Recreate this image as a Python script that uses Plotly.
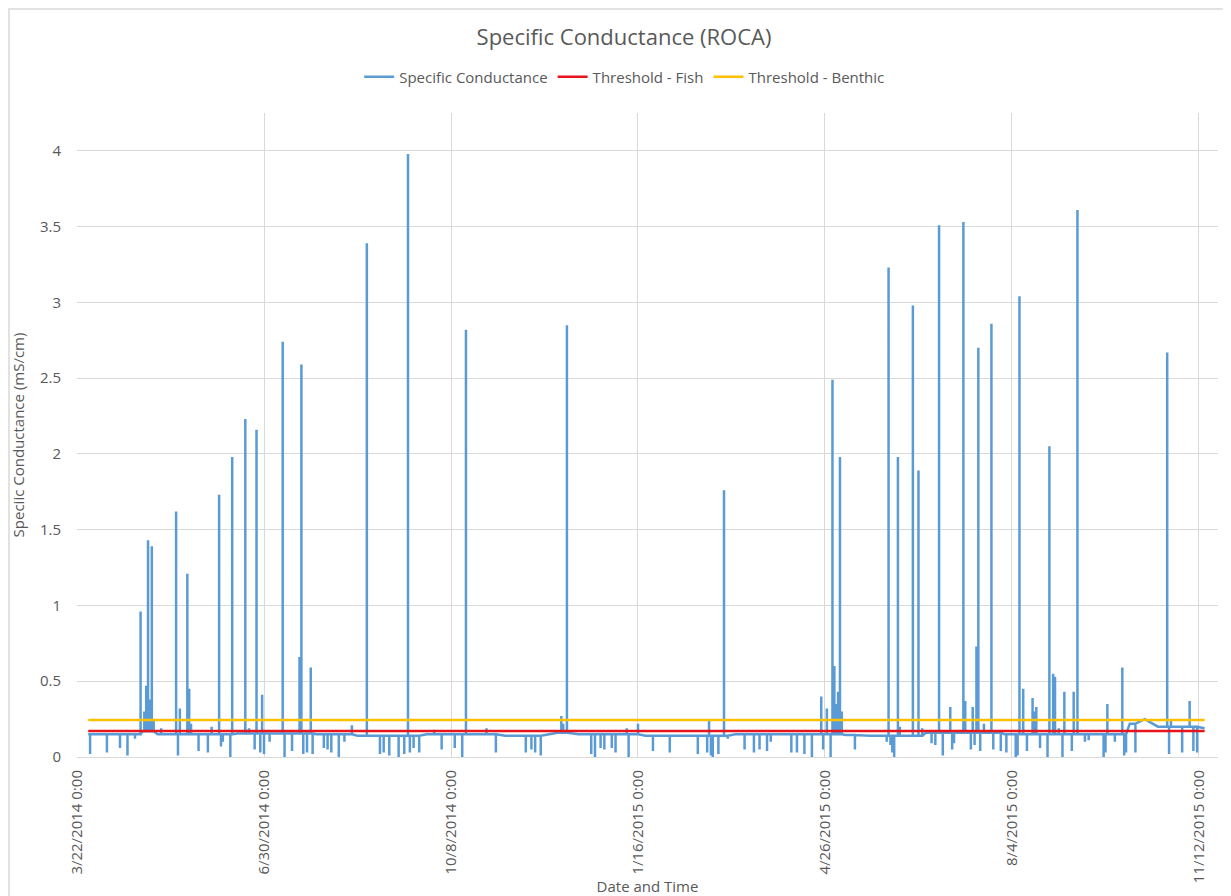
"""Specific Conductance (ROCA) time series with fish / benthic thresholds."""

import bisect

import pandas as pd
import plotly.graph_objects as go

# Baseline level of the logger between events (step level from each date on)
level_dates = [
    "2014-03-28", "2014-04-26", "2014-05-04", "2014-06-16", "2014-07-28",
    "2014-08-19", "2014-09-25", "2014-11-06", "2014-12-04", "2014-12-15",
    "2015-01-20", "2015-03-09", "2015-05-07", "2015-05-20", "2015-06-19",
    "2015-07-31", "2015-09-17", "2015-10-06", "2015-10-14", "2015-10-21",
    "2015-11-15",
]
level_values = [
    0.15, 0.17, 0.15, 0.155, 0.15,
    0.14, 0.15, 0.14, 0.16, 0.15,
    0.14, 0.15, 0.145, 0.14, 0.16,
    0.15, 0.15, 0.22, 0.25, 0.20,
    0.19,
]

# Individual readings that depart from the baseline (spikes and dips), mS/cm
event_dates = [
    "2014-03-29", "2014-04-07", "2014-04-14", "2014-04-18", "2014-04-22",
    "2014-04-25", "2014-04-27", "2014-04-28", "2014-04-29", "2014-04-30",
    "2014-05-01", "2014-05-02", "2014-05-06", "2014-05-14", "2014-05-15",
    "2014-05-16", "2014-05-20", "2014-05-21", "2014-05-22", "2014-05-26",
    "2014-05-31", "2014-06-02", "2014-06-06", "2014-06-07", "2014-06-08",
    "2014-06-12", "2014-06-13", "2014-06-20", "2014-06-22", "2014-06-25",
    "2014-06-26", "2014-06-28", "2014-06-29", "2014-06-30", "2014-07-03",
    "2014-07-10", "2014-07-11", "2014-07-15", "2014-07-19", "2014-07-20",
    "2014-07-21", "2014-07-23", "2014-07-25", "2014-07-26", "2014-08-01",
    "2014-08-03", "2014-08-05", "2014-08-09", "2014-08-12", "2014-08-16",
    "2014-08-24", "2014-08-31", "2014-09-02", "2014-09-05", "2014-09-10",
    "2014-09-13", "2014-09-15", "2014-09-16", "2014-09-18", "2014-09-21",
    "2014-09-29", "2014-10-03", "2014-10-10", "2014-10-14", "2014-10-16",
    "2014-10-27", "2014-11-01", "2014-11-17", "2014-11-20", "2014-11-22",
    "2014-11-25", "2014-12-06", "2014-12-07", "2014-12-09", "2014-12-22",
    "2014-12-24", "2014-12-27", "2014-12-29",
    "2015-01-02", "2015-01-04", "2015-01-10", "2015-01-11", "2015-01-16",
    "2015-01-24", "2015-02-02", "2015-02-17", "2015-02-22", "2015-02-23",
    "2015-02-24", "2015-02-25", "2015-02-28", "2015-03-03", "2015-03-05",
    "2015-03-14", "2015-03-19", "2015-03-22", "2015-03-26", "2015-03-28",
    "2015-04-08", "2015-04-11", "2015-04-15", "2015-04-19", "2015-04-24",
    "2015-04-25", "2015-04-27", "2015-04-29", "2015-04-30", "2015-05-01",
    "2015-05-02", "2015-05-03", "2015-05-04", "2015-05-05", "2015-05-12",
    "2015-05-29", "2015-05-30", "2015-05-31", "2015-06-01", "2015-06-02",
    "2015-06-04", "2015-06-05", "2015-06-12", "2015-06-15", "2015-06-17",
    "2015-06-22", "2015-06-24", "2015-06-26", "2015-06-28", "2015-07-02",
    "2015-07-03", "2015-07-04", "2015-07-09", "2015-07-10", "2015-07-13",
    "2015-07-14", "2015-07-15", "2015-07-16", "2015-07-17", "2015-07-18",
    "2015-07-20", "2015-07-24", "2015-07-25", "2015-07-29", "2015-08-01",
    "2015-08-06", "2015-08-07", "2015-08-08", "2015-08-10", "2015-08-12",
    "2015-08-15", "2015-08-16", "2015-08-17", "2015-08-19", "2015-08-23",
    "2015-08-24", "2015-08-26", "2015-08-27", "2015-08-29", "2015-08-31",
    "2015-09-01", "2015-09-05", "2015-09-06", "2015-09-08", "2015-09-12",
    "2015-09-14", "2015-09-22", "2015-09-23", "2015-09-24", "2015-09-28",
    "2015-10-02", "2015-10-03", "2015-10-04", "2015-10-09", "2015-10-26",
    "2015-10-27", "2015-10-28", "2015-11-03", "2015-11-07", "2015-11-09",
    "2015-11-11",
]
event_values = [
    0.02, 0.03, 0.06, 0.01, 0.12,
    0.96, 0.30, 0.47, 1.43, 0.38,
    1.39, 0.24, 0.19, 1.62, 0.01,
    0.32, 1.21, 0.45, 0.22, 0.04,
    0.03, 0.20, 1.73, 0.07, 0.10,
    0.00, 1.98, 2.23, 0.19, 0.05,
    2.16, 0.03, 0.41, 0.02, 0.10,
    2.74, 0.00, 0.04, 0.66, 2.59,
    0.02, 0.03, 0.59, 0.02, 0.06,
    0.05, 0.03, 0.00, 0.10, 0.21,
    3.39, 0.02, 0.03, 0.01, 0.00,
    0.02, 3.98, 0.03, 0.06, 0.03,
    0.18, 0.05, 0.06, 0.00, 2.82,
    0.19, 0.03, 0.03, 0.05, 0.03,
    0.01, 0.27, 0.22, 2.85, 0.02,
    0.00, 0.06, 0.05,
    0.06, 0.03, 0.19, 0.00, 0.22,
    0.04, 0.03, 0.02, 0.03, 0.24,
    0.01, 0.00, 0.02, 1.76, 0.12,
    0.05, 0.03, 0.05, 0.04, 0.10,
    0.03, 0.03, 0.02, 0.00, 0.40,
    0.05, 0.32, 0.00, 2.49, 0.60,
    0.35, 0.43, 1.98, 0.30, 0.05,
    0.10, 3.23, 0.08, 0.03, 0.00,
    1.98, 0.20, 2.98, 1.89, 0.19,
    0.09, 0.08, 3.51, 0.01, 0.33,
    0.05, 0.09, 3.53, 0.37, 0.05,
    0.33, 0.08, 0.73, 2.70, 0.04,
    0.22, 2.86, 0.05, 0.04, 0.03,
    0.00, 0.01, 3.04, 0.45, 0.04,
    0.39, 0.30, 0.33, 0.06, 0.00,
    2.05, 0.55, 0.53, 0.19, 0.00,
    0.43, 0.04, 0.43, 3.61, 0.10,
    0.11, 0.00, 0.03, 0.35, 0.10,
    0.59, 0.01, 0.03, 0.03, 2.67,
    0.02, 0.25, 0.03, 0.37, 0.04,
    0.03,
]

threshold_dates = ["2014-03-28", "2015-11-15"]
fish_threshold = [0.171, 0.171]
benthic_threshold = [0.245, 0.245]

tick_dates = ["2014-03-22", "2014-06-30", "2014-10-08", "2015-01-16",
              "2015-04-26", "2015-08-04", "2015-11-12"]
tick_labels = ["3/22/2014 0:00", "6/30/2014 0:00", "10/8/2014 0:00",
               "1/16/2015 0:00", "4/26/2015 0:00", "8/4/2015 0:00",
               "11/12/2015 0:00"]

BLUE = "#5B9BD5"
RED = "#E8141B"
GOLD = "#FFC000"
GRID = "#D9D9D9"
TEXT = "#595959"
FONT = "Open Sans"


def build_series():
    """Merge baseline levels and event readings into one ordered series."""
    lvl_ts = list(pd.to_datetime(level_dates))
    points = list(zip(lvl_ts, level_values))
    for d, v in zip(event_dates, event_values):
        t = pd.Timestamp(d)
        i = max(bisect.bisect_right(lvl_ts, t) - 1, 0)
        base = level_values[i]
        # each reading drawn as a vertical excursion from the baseline
        points += [(t, base), (t, v), (t, base)]
    points.sort(key=lambda p: p[0])
    return [p[0] for p in points], [p[1] for p in points]


x, y = build_series()

fig = go.Figure()
fig.add_trace(go.Scatter(
    x=x, y=y, mode="lines", name="Specific Conductance",
    line=dict(color=BLUE, width=2.5),
))
fig.add_trace(go.Scatter(
    x=threshold_dates, y=fish_threshold, mode="lines", name="Threshold - Fish",
    line=dict(color=RED, width=2.5),
))
fig.add_trace(go.Scatter(
    x=threshold_dates, y=benthic_threshold, mode="lines",
    name="Threshold - Benthic",
    line=dict(color=GOLD, width=2.5),
))

# page body adds an 8px offset, so the figure is 8px smaller on each axis
fig.update_layout(
    width=1223,
    height=888,
    margin=dict(l=69, r=13, t=105, b=139, autoexpand=False),
    paper_bgcolor="white",
    plot_bgcolor="white",
    font=dict(family=FONT, size=14, color=TEXT),
    title=dict(
        text="Specific Conductance (ROCA)",
        x=0.5037, xanchor="center", xref="container",
        y=0.967, yanchor="middle", yref="container",
        font=dict(size=22, color=TEXT),
    ),
    legend=dict(
        orientation="h",
        x=0.48, xanchor="center",
        y=1.056, yanchor="middle",
        font=dict(size=15, color=TEXT),
        itemwidth=30,
    ),
    xaxis=dict(
        type="date",
        range=["2014-03-22", "2015-11-22 04:00"],
        tickmode="array",
        tickvals=tick_dates,
        ticktext=tick_labels,
        tickangle=-90,
        tickfont=dict(size=15),
        showgrid=True,
        gridcolor=GRID,
        showline=True,
        linecolor=GRID,
        zeroline=False,
        ticks="outside",
        ticklen=6,
        tickcolor="rgba(0,0,0,0)",
        automargin=False,
        title=dict(text="Date and Time", font=dict(size=15, color=TEXT), standoff=4),
    ),
    yaxis=dict(
        range=[0, 4.25],
        tickmode="linear",
        tick0=0,
        dtick=0.5,
        tickfont=dict(size=15),
        showgrid=True,
        gridcolor=GRID,
        zeroline=False,
        showline=False,
        ticks="outside",
        ticklen=12,
        tickcolor="rgba(0,0,0,0)",
        automargin=False,
        title=dict(text="Speciic Conductance (mS/cm)", font=dict(size=15, color=TEXT),
                   standoff=14),
    ),
    shapes=[
        # light chart-area border like the spreadsheet export
        dict(type="rect", xref="paper", yref="paper",
             x0=-0.0596, x1=1.0096, y0=-0.23, y1=1.1615,
             line=dict(color=GRID, width=1.5), fillcolor="rgba(0,0,0,0)",
             layer="below"),
    ],
)

fig.write_html("out.html")
